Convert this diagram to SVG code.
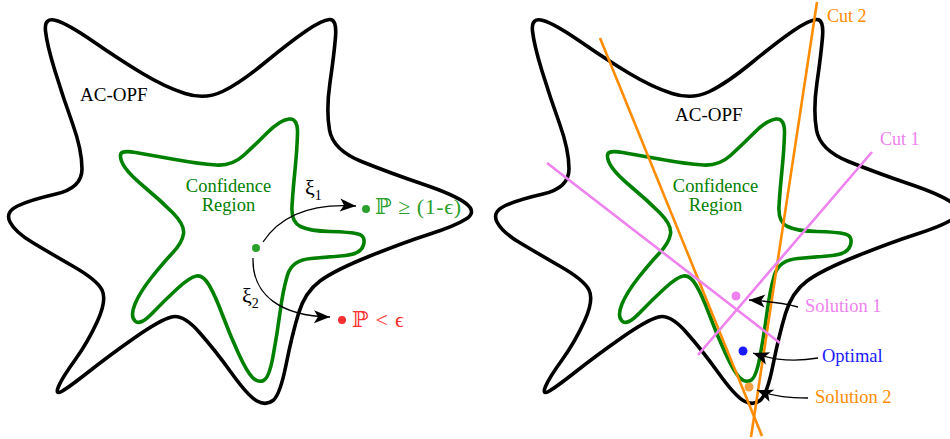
<svg xmlns="http://www.w3.org/2000/svg" xmlns:xlink="http://www.w3.org/1999/xlink" width="950" height="439" viewBox="0 0 950 439">
<style>
text { font-family: "Liberation Serif", "DejaVu Serif", serif; }
.outer { fill: none; stroke: #000; stroke-width: 3.6; stroke-linejoin: round; }
.inner { fill: none; stroke: #008000; stroke-width: 3.6; stroke-linejoin: round; }
.lbl { font-size: 19px; }
.conf { font-size: 18.5px; fill: #008000; text-anchor: middle; }
.arrow { fill: none; stroke: #000; stroke-width: 1.3; marker-end: url(#ah); }
.cut2 { stroke: #ff8c00; stroke-width: 2.6; }
.cut1 { stroke: #ee82ee; stroke-width: 2.6; }
</style>
<defs>
<marker id="ah" viewBox="-17 -7 18 14" refX="0" refY="0" markerWidth="18" markerHeight="14" markerUnits="userSpaceOnUse" orient="auto">
<path d="M0,0 L-16,-6.5 L-12,0 L-16,6.5 Z" fill="#000"/>
</marker>
<path id="outerShape" class="outer" d="M 45.5,31 Q 44,17 56,20.5 Q 68,24 94,42 Q 120,60 142.5,73.5 Q 165,87 185,93.5 Q 205,100 222.5,91.5 Q 240,83 265,62.5 Q 290,42 306,31 Q 322,20 329.5,19.5 Q 337,19 335.5,37 Q 334,55 330,82.5 Q 326,110 329.5,130 Q 333,150 361.5,161.5 Q 390,173 422.5,184 Q 455,195 466,203.5 Q 477,212 466,219 Q 455,226 430,234 Q 405,242 370,256 Q 335,270 320,281 Q 305,292 298.5,313.5 Q 292,335 286,365 Q 280,395 273,400.5 Q 266,406 257,401 Q 248,396 231.5,373 Q 215,350 199,332 Q 183,314 171.5,317 Q 160,320 135,337.5 Q 110,355 89,371.5 Q 68,388 61.5,391.5 Q 55,395 58.5,386.5 Q 62,378 75,360 Q 88,342 97.5,321 Q 107,300 102,290 Q 97,280 73.5,266.5 Q 50,253 32.5,242.5 Q 15,232 10,222 Q 5,212 17.5,206 Q 30,200 56,194 Q 82,188 82,169 Q 82,150 72.5,123.5 Q 63,97 55,71 Q 47,45 45.5,31 Z"/>
<path id="innerShape" class="inner" d="M 120.5,155 Q 121,150 135.5,152.5 Q 150,155 175,159.5 Q 200,164 216,165 Q 232,166 243.5,155.5 Q 255,145 267.5,132.5 Q 280,120 289,119 Q 298,118 297.5,134 Q 297,150 295,170 Q 293,190 292,206 Q 291,222 300.5,226.5 Q 310,231 330,231.5 Q 350,232 358,234 Q 366,236 363.5,245 Q 361,254 345.5,255.5 Q 330,257 311,258.5 Q 292,260 287.5,275 Q 283,290 280,312.5 Q 277,335 273,356.5 Q 269,378 263.5,380.5 Q 258,383 252.5,377.5 Q 247,372 238.5,353.5 Q 230,335 222.5,315 Q 215,295 209,285 Q 203,275 196.5,276 Q 190,277 177.5,288.5 Q 165,300 152.5,313 Q 140,326 135,321 Q 130,316 135,304 Q 140,292 151.5,277.5 Q 163,263 172.5,253 Q 182,243 183.5,234 Q 185,225 172.5,212.5 Q 160,200 145,187.5 Q 130,175 125,167.5 Q 120,160 120.5,155 Z"/>
</defs>

<!-- Left panel -->
<g id="ac-opf-left">
<use href="#outerShape"/>
<text class="lbl" x="80" y="101">AC-OPF</text>
</g>
<g id="confidence-left">
<use href="#innerShape"/>
<text class="conf" x="228.5" y="192">Confidence</text>
<text class="conf" x="228.5" y="210.5">Region</text>
</g>
<g id="sample-point">
<circle cx="256" cy="248" r="4" fill="#2ca02c"/>
</g>
<g id="feasible-outcome">
<circle cx="366" cy="209" r="4" fill="#2ca02c"/>
<text x="375" y="214" font-size="22" fill="#2ca02c" textLength="86" lengthAdjust="spacing">ℙ ≥ (1-ϵ)</text>
</g>
<g id="infeasible-outcome">
<circle cx="342" cy="320" r="4" fill="#ff3030"/>
<text x="352" y="327" font-size="22" fill="#ff3030" textLength="52" lengthAdjust="spacing">ℙ &lt; ϵ</text>
</g>

<!-- Right panel -->
<g id="ac-opf-right">
<use href="#outerShape" transform="translate(487,0)"/>
<text class="lbl" x="675" y="121">AC-OPF</text>
</g>
<g id="confidence-right">
<use href="#innerShape" transform="translate(487,0)"/>
<text class="conf" x="715.5" y="192">Confidence</text>
<text class="conf" x="715.5" y="210.5">Region</text>
</g>
<g id="cut-2">
<line class="cut2" x1="600" y1="38" x2="762" y2="436"/>
<line class="cut2" x1="817" y1="2" x2="751" y2="437"/>
<text x="827" y="22" font-size="18" fill="#ff8c00">Cut 2</text>
</g>
<g id="cut-1">
<line class="cut1" x1="547" y1="163" x2="780" y2="343"/>
<line class="cut1" x1="872" y1="152" x2="698" y2="355"/>
<text x="880" y="145" font-size="18" fill="#ee82ee">Cut 1</text>
</g>
<g id="solution-1">
<circle cx="736" cy="296" r="4.5" fill="#ee82ee"/>
<text x="805" y="312" font-size="18.5" fill="#ee82ee">Solution 1</text>
</g>
<g id="optimal">
<circle cx="743" cy="351" r="4.5" fill="#1a1aff"/>
<text x="822" y="362" font-size="18.5" fill="#1a1aff">Optimal</text>
</g>
<g id="solution-2">
<circle cx="749" cy="387" r="4.5" fill="#f5a040"/>
<text x="815" y="403" font-size="18.5" fill="#ff8c00">Solution 2</text>
</g>

<!-- Connectors -->
<g id="connectors">
<path class="arrow" d="M 263,242 C 280,216 310,203 356,206"/>
<path class="arrow" d="M 253,258 C 252,296 282,316 330,317"/>
<path class="arrow" d="M 798,307 Q 780,302 749,300"/>
<path class="arrow" d="M 818,358 C 795,362 775,361 753,353"/>
<path class="arrow" d="M 808,398 C 790,398 775,397 757,390"/>
</g>
<g id="xi-labels" font-size="22">
<text x="305" y="195">ξ<tspan font-size="14" dy="5">1</tspan></text>
<text x="242" y="303">ξ<tspan font-size="14" dy="5">2</tspan></text>
</g>
</svg>
